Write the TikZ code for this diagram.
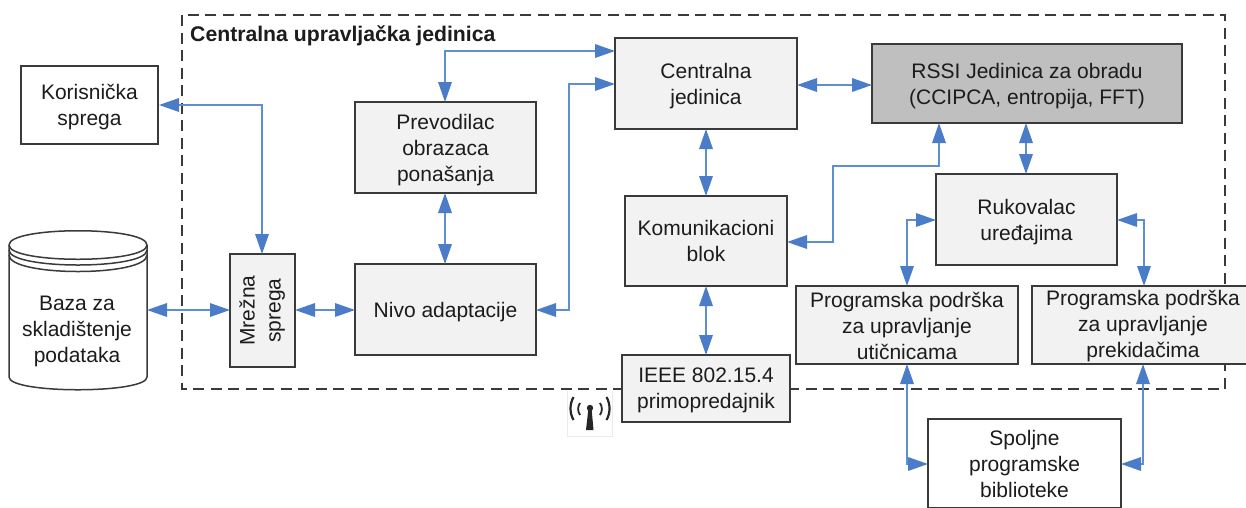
\documentclass[tikz,border=0pt]{standalone}
\usepackage{fontspec}
\setmainfont{Liberation Sans}
\usetikzlibrary{arrows.meta,calc}
\definecolor{linkblue}{HTML}{4A7CC7}
\definecolor{linklight}{HTML}{5F8FD3}
\definecolor{boxline}{HTML}{3A3A3A}
\definecolor{boxfill}{HTML}{F2F2F2}
\definecolor{boxdark}{HTML}{BFBFBF}
\definecolor{inktext}{HTML}{1C1C1C}
\tikzset{
  x=1pt,y=-1pt,
  blk/.style={draw=boxline,line width=1.5pt,fill=boxfill,align=center,text=inktext,inner sep=0pt,
    font=\fontsize{21}{26}\selectfont},
  whiteblk/.style={blk,fill=white},
  darkblk/.style={blk,fill=boxdark},
  link/.style={draw=linklight,line width=1.7pt,
    {Triangle[length=20pt,width=13.5pt,color=linkblue]}-{Triangle[length=20pt,width=13.5pt,color=linkblue]},
    shorten <=0pt,shorten >=0pt},
  frame/.style={draw=boxline,line width=1.4pt,dash pattern=on 11pt off 6.5pt},
}
\newcommand{\bx}[7]{% style,name,x1,y1,x2,y2,text
  \node[#1,minimum width=#5pt-#3pt,minimum height=#6pt-#4pt] (#2) at ({(#3+#5)/2},{(#4+#6)/2}) {#7};}
\newcommand{\tallA}{\rule{0pt}{19.5pt}}
\newcommand{\tallB}{\rule{0pt}{18pt}}
\begin{document}
\begin{tikzpicture}
\useasboundingbox (0,0) rectangle (1246,507);
\clip (0,0) rectangle (1246,507);
\fill[white] (0,0) rectangle (1246,507);
% frame
\draw[frame] (182,15) rectangle (1225,389);
\node[anchor=west,font=\fontsize{21.2}{24}\selectfont\bfseries,text=inktext,inner sep=0pt] (title) at (190,36) {Centralna upravljačka jedinica};
% boxes
\bx{whiteblk}{kor}{21}{66}{158}{144}{\tallA Korisnička\\sprega}
\bx{blk}{prev}{355}{102}{536}{193}{\tallA Prevodilac\\obrazaca\\ponašanja}
\bx{blk}{nivo}{355}{264}{536}{355}{\tallA Nivo adaptacije}
\bx{blk}{mrez}{230}{254}{295}{367}{\rotatebox{90}{\begin{tabular}{@{}c@{}}Mrežna\\sprega\end{tabular}}}
\bx{blk}{cent}{615}{38}{797}{129}{\tallA Centralna\\jedinica}
\bx{darkblk}{rssi}{872}{44}{1182}{123}{\tallA RSSI Jedinica za obradu\\(CCIPCA, entropija, FFT)}
\bx{blk}{kom}{625}{196}{787}{286}{Komunikacioni\\blok}
\bx{blk}{ruk}{936}{174}{1117}{265}{\tallA Rukovalac\\uređajima}
\bx{blk}{prog1}{796}{286}{1018}{364}{\tallB Programska podrška\\za upravljanje\\utičnicama}
\bx{blk}{prog2}{1032}{286}{1254}{364}{\tallB Programska podrška\\za upravljanje\\prekidačima}
\bx{blk}{ieee}{622}{355}{790}{422}{\tallB IEEE 802.15.4\\primopredajnik}
\bx{whiteblk}{spol}{928}{419}{1121}{508}{Spoljne\\programske\\biblioteke}
% cylinder
\draw[boxline,line width=1.5pt,fill=white] (9,245) -- (9,377)
  .. controls (9,394) and (147,394) .. (147,377) -- (147,245)
  .. controls (147,226) and (9,226) .. (9,245) -- cycle;
\draw[boxline,line width=1.5pt] (9,245) .. controls (9,264) and (147,264) .. (147,245);
\draw[boxline,line width=1.5pt] (9,250) .. controls (9,270) and (147,270) .. (147,250);
\draw[boxline,line width=1.5pt] (9,255) .. controls (9,277) and (147,277) .. (147,255);
\node[font=\fontsize{21}{26}\selectfont,align=center,text=inktext,inner sep=0pt] (baza) at (77,331) {Baza za\\skladištenje\\podataka};
% antenna
\fill[black!8] (567,391) rectangle (613,436.5);
\fill[white] (567.5,391) rectangle (612,435.5);
\fill[black!85] (590,408) circle (3.2pt);
\fill[black!85] (588.5,408) -- (591.5,408) -- (593.5,430) -- (586,430) -- cycle;
\draw[black!85,line width=1.8pt] (580,403) .. controls (577.5,407) and (577.5,411) .. (580,415);
\draw[black!85,line width=1.8pt] (600,403) .. controls (602.5,407) and (602.5,411) .. (600,415);
\draw[black!85,line width=2.2pt] (573.5,397) .. controls (569.5,404) and (569.5,413) .. (573.5,420);
\draw[black!85,line width=2.2pt] (606.5,397) .. controls (610.5,404) and (610.5,413) .. (606.5,420);
% connector bends
\coordinate (krnE) at (159,105);
\coordinate (mrzT) at (262,254);
\coordinate (cntA) at (615,51);
\coordinate (prvT) at (445,102);
\coordinate (cntB) at (615,84);
\coordinate (rssA) at (939,123);
\coordinate (bndA) at (833,242);
\coordinate (kmnE) at (787,242);
\coordinate (bndB) at (833,166);
\coordinate (rukW) at (936,220);
\coordinate (rukE) at (1117,220);
\coordinate (pgaT) at (907,286);
\coordinate (pgbT) at (1144,286);
\coordinate (pgaB) at (907,364);
\coordinate (pgbB) at (1143,364);
\coordinate (splW) at (928,464);
\coordinate (splE) at (1121,464);
\coordinate (rssB) at (1026,123);
\coordinate (rukT) at (1026,174);
\coordinate (komT) at (706,196);
\coordinate (cntC) at (706,129);
\coordinate (komB) at (706,286);
\coordinate (ieeT) at (706,355);
\coordinate (nivE) at (536,310);
\coordinate (nivW) at (355,310);
\coordinate (mrzE) at (295,310);
\coordinate (mrzW) at (230,310);
\coordinate (bazE) at (147,310);
\coordinate (prvB) at (445,193);
\coordinate (nivT) at (445,264);
\coordinate (cntE) at (797,85);
\coordinate (rssW) at (872,85);
\coordinate (nivR) at (569,310);
\coordinate (cntR) at (569,84);
% connectors
\draw[link] (krnE) -| (mrzT);
\draw[link] (bazE) -- (mrzW);
\draw[link] (mrzE) -- (nivW);
\draw[link] (prvB) -- (nivT);
\draw[link] (cntA) -| (prvT);
\draw[link] (nivE) -- (nivR) -- (cntR) -- (cntB);
\draw[link] (cntE) -- (rssW);
\draw[link] (cntC) -- (komT);
\draw[link] (komB) -- (ieeT);
\draw[link] (kmnE) -- (bndA) -- (bndB) -| (rssA);
\draw[link] (rssB) -- (rukT);
\draw[link] (rukW) -| (pgaT);
\draw[link] (rukE) -| (pgbT);
\draw[link] (pgaB) |- (splW);
\draw[link] (pgbB) |- (splE);
\end{tikzpicture}
\end{document}
